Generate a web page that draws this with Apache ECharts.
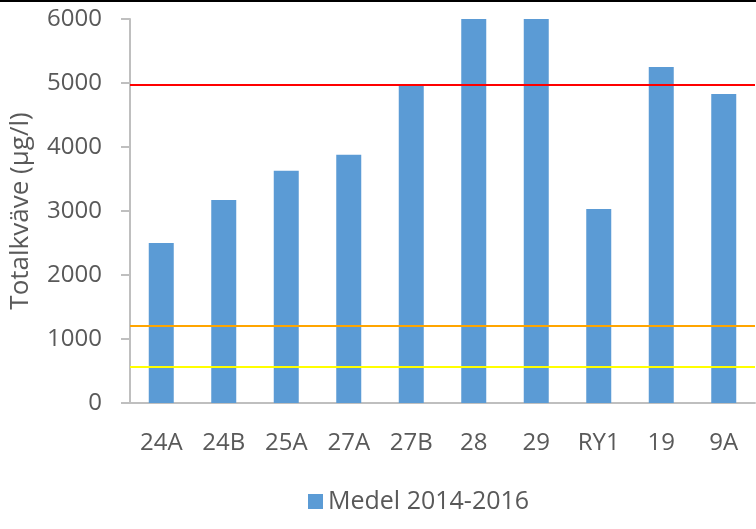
<!DOCTYPE html>
<html>
<head>
<meta charset="utf-8">
<script src="https://cdn.jsdelivr.net/npm/echarts@6/dist/echarts.min.js"></script>
<style>
  html, body { margin: 0; padding: 0; background: #fff; }
  #chart { width: 756px; height: 529px; }
</style>
</head>
<body>
<div id="chart"></div>
<script>
// stations and mean total nitrogen 2014-2016
const stations = ['24A', '24B', '25A', '27A', '27B', '28', '29', 'RY1', '19', '9A'];
const medel = [2500, 3170, 3630, 3880, 4980, 6000, 6000, 3030, 5250, 4830];
const yTicks = [0, 1000, 2000, 3000, 4000, 5000, 6000];
// class limits drawn as horizontal lines
const limitValues = [4970, 1200, 570];
const limitColors = ['#ff0000', '#ffa500', '#ffff00'];

const font = '"Open Sans", sans-serif';
const grey = '#595959';

let chart = echarts.init(document.getElementById('chart'));
chart.setOption({
  animation: false,
  textStyle: { fontFamily: font },
  grid: { left: 130, right: 1, top: 19, bottom: 126, containLabel: false },
  legend: {
    left: 303, top: 484,
    itemWidth: 15, itemHeight: 15, itemGap: 10,
    icon: 'rect',
    textStyle: { fontFamily: font, fontSize: 25, color: grey },
    data: ['Medel 2014-2016']
  },
  graphic: [
    { type: 'rect', left: 0, top: 0, shape: { width: 756, height: 2 }, style: { fill: '#000' } }
  ],
  xAxis: {
    type: 'category',
    data: stations,
    axisLine: { lineStyle: { color: '#bfbfbf', width: 2 } },
    axisTick: { show: false },
    axisLabel: { fontFamily: font, fontSize: 24, color: grey, margin: 28 }
  },
  yAxis: {
    type: 'value',
    min: yTicks[0],
    max: yTicks[yTicks.length - 1],
    interval: 1000,
    name: 'Totalkväve (µg/l)',
    nameLocation: 'middle',
    nameGap: 96,
    nameTextStyle: { fontFamily: font, fontSize: 26, color: grey },
    axisLine: { show: true, lineStyle: { color: '#bfbfbf', width: 2 } },
    axisTick: { show: true, length: 9, lineStyle: { color: '#bfbfbf', width: 2 } },
    splitLine: { show: false },
    axisLabel: {
      fontFamily: font, fontSize: 24, color: grey, margin: 28,
      formatter: (v) => String(v)
    }
  },
  series: [{
    name: 'Medel 2014-2016',
    type: 'bar',
    data: medel,
    barWidth: 25,
    itemStyle: { color: '#5b9bd5' },
    markLine: {
      silent: true,
      symbol: 'none',
      label: { show: false },
      data: limitValues.map((v, i) => ({
        yAxis: v,
        lineStyle: { color: limitColors[i], width: 2, type: 'solid' }
      }))
    }
  }]
});
</script>
</body>
</html>
